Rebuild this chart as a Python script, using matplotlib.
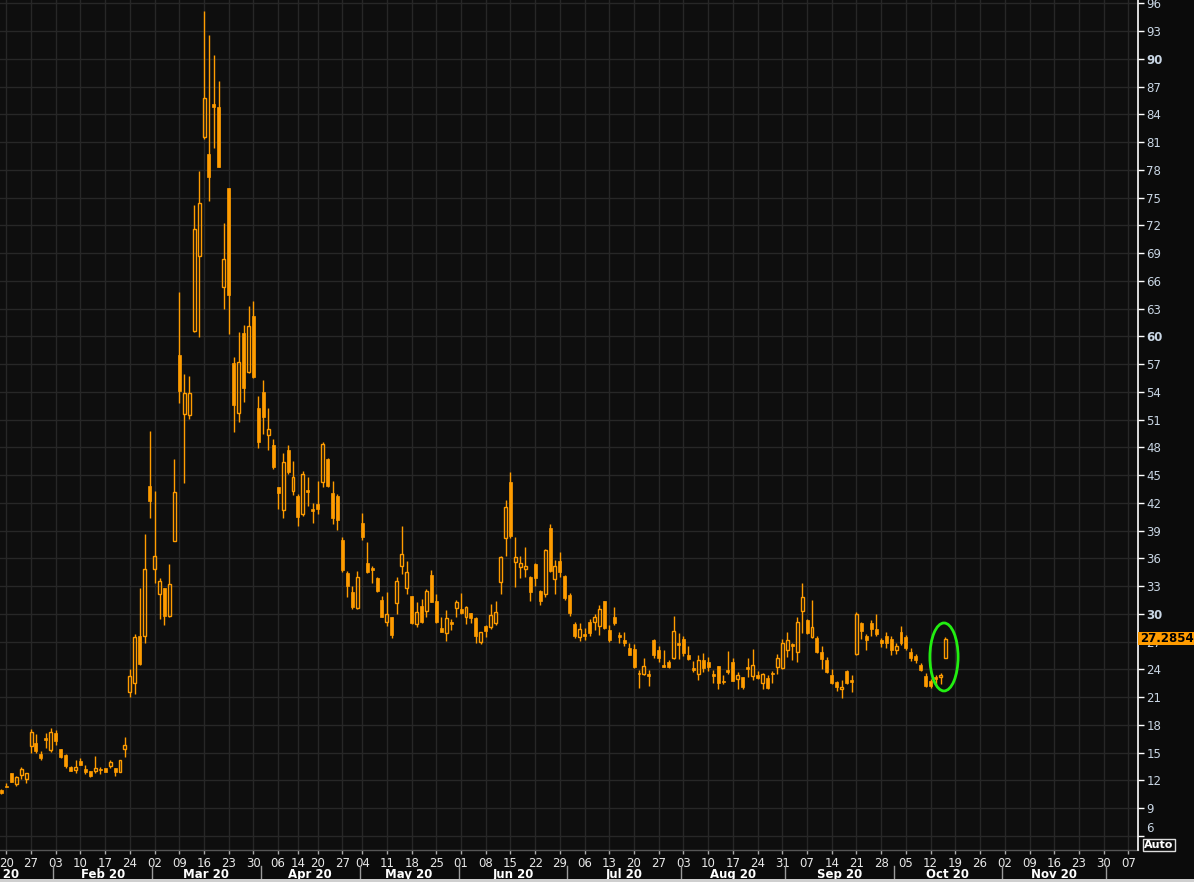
import numpy as np
import pandas as pd
import matplotlib
matplotlib.use('Agg')
import matplotlib.pyplot as plt
from matplotlib.patches import Ellipse, Rectangle
from matplotlib.transforms import blended_transform_factory

days = ['2020-01-17', '2020-01-20', '2020-01-21', '2020-01-22', '2020-01-23', '2020-01-24',
        '2020-01-27', '2020-01-28', '2020-01-29', '2020-01-30', '2020-01-31',
        '2020-02-03', '2020-02-04', '2020-02-05', '2020-02-06', '2020-02-07',
        '2020-02-10', '2020-02-11', '2020-02-12', '2020-02-13', '2020-02-14',
        '2020-02-17', '2020-02-18', '2020-02-19', '2020-02-20', '2020-02-21',
        '2020-02-24', '2020-02-25', '2020-02-26', '2020-02-27', '2020-02-28',
        '2020-03-02', '2020-03-03', '2020-03-04', '2020-03-05', '2020-03-06',
        '2020-03-09', '2020-03-10', '2020-03-11', '2020-03-12', '2020-03-13',
        '2020-03-16', '2020-03-17', '2020-03-18', '2020-03-19', '2020-03-20',
        '2020-03-23', '2020-03-24', '2020-03-25', '2020-03-26', '2020-03-27',
        '2020-03-30', '2020-03-31', '2020-04-01', '2020-04-02', '2020-04-03',
        '2020-04-06', '2020-04-07', '2020-04-08', '2020-04-09',
        '2020-04-14', '2020-04-15', '2020-04-16', '2020-04-17',
        '2020-04-20', '2020-04-21', '2020-04-22', '2020-04-23', '2020-04-24',
        '2020-04-27', '2020-04-28', '2020-04-29', '2020-04-30',
        '2020-05-04', '2020-05-05', '2020-05-06', '2020-05-07', '2020-05-08',
        '2020-05-11', '2020-05-12', '2020-05-13', '2020-05-14', '2020-05-15',
        '2020-05-18', '2020-05-19', '2020-05-20', '2020-05-21', '2020-05-22',
        '2020-05-25', '2020-05-26', '2020-05-27', '2020-05-28', '2020-05-29',
        '2020-06-01', '2020-06-02', '2020-06-03', '2020-06-04', '2020-06-05',
        '2020-06-08', '2020-06-09', '2020-06-10', '2020-06-11', '2020-06-12',
        '2020-06-15', '2020-06-16', '2020-06-17', '2020-06-18', '2020-06-19',
        '2020-06-22', '2020-06-23', '2020-06-24', '2020-06-25', '2020-06-26',
        '2020-06-29', '2020-06-30', '2020-07-01', '2020-07-02', '2020-07-03',
        '2020-07-06', '2020-07-07', '2020-07-08', '2020-07-09', '2020-07-10',
        '2020-07-13', '2020-07-14', '2020-07-15', '2020-07-16', '2020-07-17',
        '2020-07-20', '2020-07-21', '2020-07-22', '2020-07-23', '2020-07-24',
        '2020-07-27', '2020-07-28', '2020-07-29', '2020-07-30', '2020-07-31',
        '2020-08-03', '2020-08-04', '2020-08-05', '2020-08-06', '2020-08-07',
        '2020-08-10', '2020-08-11', '2020-08-12', '2020-08-13', '2020-08-14',
        '2020-08-17', '2020-08-18', '2020-08-19', '2020-08-20', '2020-08-21',
        '2020-08-24', '2020-08-25', '2020-08-26', '2020-08-27', '2020-08-28',
        '2020-08-31', '2020-09-01', '2020-09-02', '2020-09-03', '2020-09-04',
        '2020-09-07', '2020-09-08', '2020-09-09', '2020-09-10', '2020-09-11',
        '2020-09-14', '2020-09-15', '2020-09-16', '2020-09-17', '2020-09-18',
        '2020-09-21', '2020-09-22', '2020-09-23', '2020-09-24', '2020-09-25',
        '2020-09-28', '2020-09-29', '2020-09-30', '2020-10-01', '2020-10-02',
        '2020-10-05', '2020-10-06', '2020-10-07', '2020-10-08', '2020-10-09',
        '2020-10-12', '2020-10-13', '2020-10-14', '2020-10-15']

o = [11.0, 11.4, 12.75, 11.6, 12.57, 12.14,
     15.74, 16.03, 14.84, 16.61, 15.28,
     17.15, 15.38, 14.73, 13.47, 13.11,
     14.09, 13.22, 13.0, 12.97, 13.22,
     13.33, 13.55, 13.33, 12.93, 15.42,
     21.5, 22.5, 27.6, 27.64, 43.82,
     34.81, 32.11, 32.76, 29.8, 37.91,
     57.98, 51.63, 51.53, 60.57, 68.72,
     81.58, 79.71, 85.1, 84.75, 65.3,
     76.0, 57.08, 51.67, 60.32, 56.14,
     62.2, 52.21, 53.98, 49.29, 48.2,
     43.71, 41.23, 47.71, 43.32,
     42.74, 40.79, 43.39, 41.33,
     41.84, 44.22, 46.74, 43.03, 42.74,
     37.98, 34.42, 32.36, 30.63,
     39.78, 35.46, 35.0, 33.87, 31.49,
     29.15, 29.62, 31.21, 35.2, 32.83,
     31.93, 28.9, 30.84, 30.3, 34.2,
     31.38, 28.5, 27.96, 29.15, 30.67,
     30.52, 29.69, 30.05, 29.51, 26.92,
     28.68, 28.54, 28.97, 33.48, 38.23,
     44.21, 35.57, 35.1, 34.85, 34.02,
     35.39, 32.47, 32.11, 39.24, 33.73,
     35.71, 34.09, 32.04, 28.9, 27.53,
     27.82, 29.15, 29.08, 28.72, 31.38,
     28.25, 29.62, 27.71, 27.17, 26.34,
     26.2, 23.64, 23.5, 23.5, 27.17,
     26.09, 24.47, 24.79, 25.26, 26.88,
     27.28, 25.55, 24.18, 23.46, 25.01,
     24.79, 23.5, 24.36, 22.78, 23.93,
     24.79, 23.0, 23.14, 24.22, 23.32,
     23.39, 22.56, 23.03, 23.64, 24.29,
     24.18, 26.09, 26.74, 25.91, 30.34,
     29.33, 27.53, 27.35, 25.87, 25.01,
     23.39, 22.6, 21.84, 23.82, 22.74,
     25.62, 29.04, 27.6, 29.04, 28.32,
     27.17, 27.6, 27.28, 26.09, 28.07,
     27.46, 25.84, 25.44, 24.47, 23.28,
     22.78, 23.14, 23.14, 25.19]

h = [11.1, 11.67, 12.75, 12.46, 13.47, 12.8,
     17.58, 17.0, 15.17, 17.15, 17.65,
     17.44, 15.38, 14.84, 13.55, 14.19,
     14.41, 13.65, 13.0, 14.63, 13.47,
     13.33, 14.19, 13.33, 14.19, 16.72,
     24.0, 27.8, 32.76, 38.63, 49.77,
     43.28, 33.87, 32.76, 35.39, 46.74,
     64.79, 55.93, 55.71, 74.19, 77.87,
     95.17, 92.57, 90.41, 87.6, 72.21,
     76.0, 57.73, 60.46, 61.19, 63.28,
     63.82, 53.55, 55.28, 52.25, 48.9,
     43.71, 47.35, 48.25, 46.52,
     42.96, 45.44, 44.76, 41.95,
     44.36, 48.6, 46.85, 44.36, 42.96,
     38.27, 34.6, 33.01, 34.63,
     40.87, 37.73, 35.17, 34.0, 31.9,
     32.36, 29.7, 34.02, 39.49, 35.71,
     31.93, 31.31, 31.6, 32.65, 34.74,
     32.14, 29.66, 30.41, 29.44, 31.49,
     32.22, 30.8, 30.1, 29.6, 28.07,
     28.79, 31.06, 31.38, 36.25, 42.3,
     45.3, 38.27, 36.25, 37.19, 34.1,
     35.5, 32.6, 37.04, 39.71, 35.82,
     36.68, 34.2, 32.2, 29.08, 28.97,
     28.5, 29.44, 29.98, 30.95, 31.4,
     28.79, 30.7, 28.07, 28.07, 26.81,
     26.7, 23.92, 25.19, 23.92, 27.28,
     26.52, 26.09, 25.01, 29.76, 27.96,
     27.6, 26.52, 24.94, 25.55, 25.8,
     25.37, 23.92, 24.4, 23.39, 25.98,
     25.19, 23.68, 23.2, 25.19, 26.16,
     23.82, 23.57, 23.39, 23.86, 25.66,
     27.28, 28.0, 26.81, 29.62, 33.3,
     29.4, 31.5, 27.6, 26.52, 25.3,
     24.0, 22.78, 22.85, 23.93, 23.39,
     30.23, 29.15, 27.82, 29.33, 29.98,
     27.35, 28.07, 27.6, 26.88, 28.68,
     27.71, 26.27, 25.66, 24.65, 23.57,
     22.92, 23.39, 23.57, 27.53]

l = [10.5, 11.24, 11.85, 11.38, 12.14, 11.74,
     14.99, 14.99, 14.19, 15.53, 15.02,
     15.82, 14.45, 13.37, 13.04, 12.82,
     13.65, 12.68, 12.36, 12.82, 12.72,
     12.93, 13.37, 12.5, 12.93, 14.55,
     21.0, 21.3, 24.47, 26.8, 40.4,
     33.37, 29.41, 28.79, 29.7, 37.91,
     52.82, 44.18, 51.06, 60.5, 59.96,
     81.29, 74.66, 80.39, 78.34, 62.91,
     60.2, 49.69, 50.77, 52.93, 56.07,
     55.53, 47.96, 49.44, 47.71, 45.69,
     41.33, 40.4, 45.12, 42.85,
     39.5, 40.6, 41.66, 39.86,
     40.79, 43.75, 43.75, 39.71, 39.06,
     34.5, 31.86, 30.52, 30.52,
     37.98, 34.38, 33.37, 32.4, 29.6,
     28.69, 27.42, 29.98, 34.3, 32.14,
     28.86, 28.61, 29.04, 29.69, 31.24,
     29.0, 28.03, 27.1, 28.25, 29.69,
     30.0, 28.9, 29.04, 26.81, 26.74,
     27.53, 28.4, 28.8, 32.14, 36.25,
     38.16, 32.93, 33.84, 34.02, 31.42,
     33.05, 30.95, 31.85, 34.56, 32.14,
     34.02, 31.49, 29.8, 27.35, 27.06,
     27.2, 27.6, 28.25, 27.71, 28.36,
     27.0, 28.79, 26.88, 26.52, 25.5,
     24.11, 21.94, 23.4, 22.2, 25.26,
     24.76, 24.22, 24.1, 25.12, 25.12,
     25.48, 25.0, 23.75, 22.85, 23.75,
     23.86, 22.49, 21.87, 22.42, 23.5,
     22.7, 21.91, 21.91, 23.14, 22.85,
     22.9, 21.91, 21.9, 22.49, 23.5,
     24.0, 25.3, 25.01, 24.83, 27.89,
     27.8, 27.4, 25.8, 24.07, 23.57,
     22.4, 21.66, 20.86, 22.42, 21.59,
     25.5, 27.28, 26.09, 27.6, 27.6,
     26.38, 26.27, 25.55, 25.62, 26.63,
     26.1, 24.94, 24.65, 23.82, 22.06,
     22.0, 22.31, 22.42, 25.19]

c = [10.6, 11.3, 11.85, 12.32, 13.22, 12.75,
     17.22, 15.17, 14.45, 16.36, 17.22,
     16.28, 14.55, 13.58, 13.04, 13.47,
     13.65, 12.86, 12.46, 13.33, 13.08,
     12.93, 14.01, 12.93, 14.19, 15.78,
     23.3, 27.5, 24.58, 34.81, 42.24,
     36.25, 33.51, 29.8, 33.19, 43.14,
     54.12, 53.83, 53.83, 71.56, 74.37,
     85.73, 77.26, 84.83, 78.34, 68.32,
     64.5, 52.61, 57.19, 54.38, 61.08,
     55.64, 48.61, 51.24, 49.94, 45.91,
     43.1, 46.38, 45.33, 44.76,
     40.5, 45.12, 43.21, 41.15,
     41.37, 48.32, 43.86, 40.4, 40.15,
     34.74, 33.05, 30.78, 33.95,
     38.34, 34.49, 34.74, 32.5, 29.69,
     29.95, 27.71, 33.51, 36.43, 34.49,
     28.97, 30.23, 29.15, 32.47, 31.31,
     29.15, 28.03, 29.51, 28.9, 31.24,
     30.05, 30.7, 29.58, 27.64, 28.0,
     28.18, 29.87, 30.16, 36.11, 41.51,
     38.41, 36.18, 35.46, 35.17, 32.32,
     33.84, 31.42, 36.9, 34.67, 35.21,
     34.56, 31.75, 30.12, 27.64, 28.32,
     27.64, 27.96, 29.62, 30.48, 28.43,
     27.17, 28.97, 27.53, 26.81, 25.55,
     24.22, 23.46, 24.36, 23.28, 25.55,
     25.19, 24.29, 24.22, 28.14, 26.63,
     25.73, 25.12, 23.93, 25.01, 24.18,
     24.22, 23.28, 22.49, 22.6, 23.68,
     22.78, 23.35, 22.06, 24.04, 24.47,
     23.03, 23.5, 22.02, 23.5, 25.19,
     26.81, 27.17, 26.56, 29.12, 31.78,
     27.96, 28.54, 25.91, 25.08, 23.71,
     22.56, 22.13, 22.09, 22.49, 22.67,
     29.98, 28.18, 27.17, 28.36, 27.82,
     26.88, 26.88, 26.09, 26.56, 26.88,
     26.27, 25.19, 25.01, 23.93, 22.2,
     22.2, 22.92, 23.39, 27.2854]

last_price = '27.2854'
holidays = ['2020-04-10', '2020-04-13', '2020-05-01']
month_names = ['Jan 20', 'Feb 20', 'Mar 20', 'Apr 20', 'May 20', 'Jun 20',
               'Jul 20', 'Aug 20', 'Sep 20', 'Oct 20', 'Nov 20']

orange = '#ff9c00'
bg = '#0e0e0e'
grid_col = '#272727'
text_col = '#c9d6e4'
XLIM = (-0.275, 229.95)
YLIM = (4.46, 96.36)

# trading calendar (weekdays without exchange holidays), Jan 17 -> position 0
cal = pd.bdate_range('2020-01-02', '2020-12-31')
cal = cal[~cal.isin(pd.to_datetime(holidays))]
start = cal.get_loc(pd.Timestamp('2020-01-17'))
def pos(d):
    return cal.get_loc(pd.Timestamp(d)) - start

x = np.array([pos(d) for d in days])
o = np.array(o); h = np.array(h); l = np.array(l); c = np.array(c)

fig = plt.figure(figsize=(11.94, 8.82), dpi=100)
fig.patch.set_facecolor('#0b0b0b')
ax = fig.add_axes([0, 32/882, 1138/1194, 850/882])
ax.set_facecolor(bg)

# weekly ticks on first trading day of each week
weeks = pd.date_range('2020-01-20', '2020-12-07', freq='W-MON')
wk_pos, wk_lab = [], []
for w in weeks:
    d = cal[(cal >= w) & (cal < w + pd.Timedelta(days=7))][0]
    wk_pos.append(cal.get_loc(d) - start)
    wk_lab.append(d.strftime('%d'))

for p in wk_pos:
    ax.axvline(p, color=grid_col, lw=1, zorder=0)
yt = np.arange(6, 97, 3)
for v in yt:
    ax.axhline(v, color=grid_col, lw=1, zorder=0)

# candles
up = c > o
body_lo = np.minimum(o, c)
body_hi = np.maximum(o, c)
body_h = np.maximum(body_hi - body_lo, 0.12)
bw = 0.6
for i in range(len(x)):
    if up[i]:
        ax.vlines(x[i], body_hi[i], h[i], color=orange, lw=1, zorder=2)
        ax.vlines(x[i], l[i], body_lo[i], color=orange, lw=1, zorder=2)
        ax.add_patch(Rectangle((x[i] - bw/2, body_lo[i]), bw, body_h[i],
                               facecolor='none', edgecolor=orange, lw=1, zorder=3))
    else:
        ax.vlines(x[i], l[i], h[i], color=orange, lw=1, zorder=2)
        ax.add_patch(Rectangle((x[i] - bw/2, body_lo[i]), bw, body_h[i],
                               facecolor=orange, edgecolor=orange, lw=0.5, zorder=3))

ax.add_patch(Ellipse((x[-1] - 0.3, 25.33), 5.7, 7.35, facecolor='none',
                     edgecolor='#22ee11', lw=2, zorder=4))

for s in ['top', 'left', 'bottom']:
    ax.spines[s].set_visible(False)
ax.spines['right'].set_color('white')
ax.spines['right'].set_linewidth(1.2)

ax.yaxis.tick_right()
ax.set_yticks(yt)
ax.set_yticklabels(['' if v == 6 else str(v) for v in yt])
ax.tick_params(axis='y', colors='white', length=4, width=1, pad=2,
               labelsize=8.5, labelcolor=text_col)
for t in ax.get_yticklabels():
    if t.get_text() in ('30', '60', '90'):
        t.set_fontweight('bold')

ax.set_xticks(wk_pos)
ax.set_xticklabels(wk_lab)
ax.tick_params(axis='x', colors='#aaaaaa', length=3, width=1, pad=2,
               labelsize=8.5, labelcolor='#e8e8e8')
ax.set_xlim(*XLIM)
ax.set_ylim(*YLIM)

# month row
tr = blended_transform_factory(ax.transData, ax.transAxes)
ax.plot(list(XLIM), [0, 0], color='#555555', lw=1, transform=tr, clip_on=False)
m_start = []
for m in range(1, 13):
    d = cal[cal.month == m][0]
    m_start.append(cal.get_loc(d) - start - 0.5)
m_start.append(cal.get_loc(cal[-1]) - start + 0.5)
for i, name in enumerate(month_names):
    cx = (m_start[i] + m_start[i + 1]) / 2
    ax.text(cx, -0.0285, name, transform=tr, ha='center', va='center',
            color='white', fontsize=8.5, fontweight='bold', clip_on=False)
for b in m_start[1:12]:
    ax.plot([b, b], [-0.019, -0.038], color='#9a9a9a', lw=1, transform=tr, clip_on=False)
ax.set_xlim(*XLIM)
ax.set_ylim(*YLIM)

# bottom light strip
fig.patches.append(Rectangle((0, 0), 1, 3/882, transform=fig.transFigure,
                             facecolor='#cfcfcf', edgecolor='none'))

# "6" label sits a little higher in the original
fig.text(1146/1194, 1 - 828/882, '6', color=text_col, fontsize=8.5, ha='left', va='center')

# last price box
py = 1 - (3.3 + (96 - float(last_price)) * 9.25) / 882
fig.patches.append(Rectangle((1138/1194, py - 6.5/882), 56/1194, 13/882,
                             transform=fig.transFigure, facecolor='#ff9c00', edgecolor='none'))
fig.text(1140/1194, py, last_price, color='black', fontsize=8.5, fontweight='bold',
         ha='left', va='center')

fig.text(1159/1194, 1 - 845/882, 'Auto', color='white', fontsize=8, fontweight='bold',
         ha='center', va='center',
         bbox=dict(boxstyle='square,pad=0.12', facecolor='#0b0b0b', edgecolor='#dddddd', lw=1))

fig.savefig('out.png', dpi=100, facecolor=fig.get_facecolor())
